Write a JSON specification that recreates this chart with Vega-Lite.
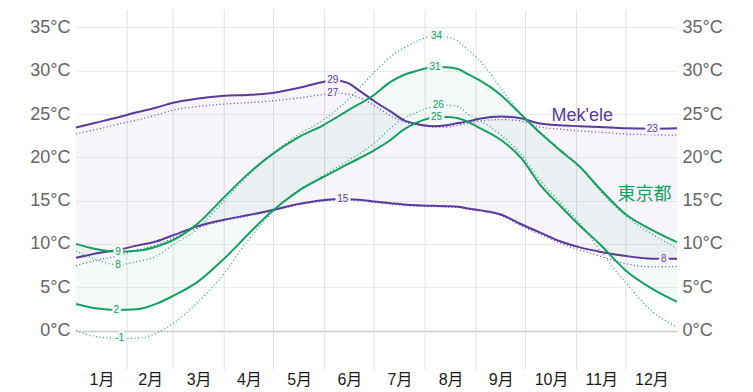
{
  "$schema": "https://vega.github.io/schema/vega-lite/v6.json",
  "width": 601,
  "height": 360,
  "autosize": {"type": "none"},
  "padding": {"left": 76, "top": 10, "right": 76, "bottom": 22},
  "background": "white",
  "config": {"view": {"stroke": null}, "font": "Liberation Sans"},
  "datasets": {
    "months": [{"d": 31}, {"d": 59}, {"d": 90}, {"d": 120}, {"d": 151}, {"d": 181}, {"d": 212}, {"d": 243}, {"d": 273}, {"d": 304}, {"d": 334}],
    "clim": [
      {"c": "Mek'ele", "d": 0, "hi": 23.45, "lo": 8.4, "hid": 22.7, "lod": 7.5},
      {"c": "Mek'ele", "d": 12, "hi": 24.0, "lo": 8.9, "hid": 23.2, "lod": 8.1},
      {"c": "Mek'ele", "d": 25, "hi": 24.6, "lo": 9.3, "hid": 23.8, "lod": 8.6},
      {"c": "Mek'ele", "d": 37, "hi": 25.2, "lo": 9.8, "hid": 24.3, "lod": 9.3},
      {"c": "Mek'ele", "d": 49, "hi": 25.75, "lo": 10.3, "hid": 24.9, "lod": 9.9},
      {"c": "Mek'ele", "d": 59, "hi": 26.3, "lo": 11.0, "hid": 25.45, "lod": 10.7},
      {"c": "Mek'ele", "d": 73, "hi": 26.75, "lo": 12.0, "hid": 25.85, "lod": 11.8},
      {"c": "Mek'ele", "d": 90, "hi": 27.1, "lo": 12.8, "hid": 26.15, "lod": 12.7},
      {"c": "Mek'ele", "d": 104, "hi": 27.2, "lo": 13.3, "hid": 26.3, "lod": 13.2},
      {"c": "Mek'ele", "d": 118, "hi": 27.4, "lo": 13.85, "hid": 26.5, "lod": 13.75},
      {"c": "Mek'ele", "d": 135, "hi": 28.0, "lo": 14.6, "hid": 26.85, "lod": 14.5},
      {"c": "Mek'ele", "d": 150, "hi": 28.7, "lo": 15.05, "hid": 27.25, "lod": 14.95},
      {"c": "Mek'ele", "d": 157, "hi": 28.9, "lo": 15.15, "hid": 27.4, "lod": 15.05},
      {"c": "Mek'ele", "d": 165, "hi": 28.6, "lo": 15.15, "hid": 27.3, "lod": 15.05},
      {"c": "Mek'ele", "d": 172, "hi": 27.7, "lo": 15.1, "hid": 26.9, "lod": 15.0},
      {"c": "Mek'ele", "d": 181, "hi": 26.5, "lo": 14.9, "hid": 26.0, "lod": 14.8},
      {"c": "Mek'ele", "d": 191, "hi": 25.3, "lo": 14.7, "hid": 24.8, "lod": 14.6},
      {"c": "Mek'ele", "d": 199, "hi": 24.3, "lo": 14.55, "hid": 24.1, "lod": 14.45},
      {"c": "Mek'ele", "d": 207, "hi": 23.85, "lo": 14.45, "hid": 23.75, "lod": 14.35},
      {"c": "Mek'ele", "d": 217, "hi": 23.6, "lo": 14.4, "hid": 23.5, "lod": 14.3},
      {"c": "Mek'ele", "d": 225, "hi": 23.7, "lo": 14.35, "hid": 23.5, "lod": 14.25},
      {"c": "Mek'ele", "d": 232, "hi": 23.95, "lo": 14.3, "hid": 23.7, "lod": 14.2},
      {"c": "Mek'ele", "d": 238, "hi": 24.15, "lo": 14.1, "hid": 23.9, "lod": 14.0},
      {"c": "Mek'ele", "d": 245, "hi": 24.45, "lo": 13.9, "hid": 24.2, "lod": 13.8},
      {"c": "Mek'ele", "d": 258, "hi": 24.7, "lo": 13.4, "hid": 24.35, "lod": 13.3},
      {"c": "Mek'ele", "d": 270, "hi": 24.5, "lo": 12.3, "hid": 24.2, "lod": 12.1},
      {"c": "Mek'ele", "d": 282, "hi": 23.9, "lo": 11.3, "hid": 23.5, "lod": 11.1},
      {"c": "Mek'ele", "d": 294, "hi": 23.7, "lo": 10.3, "hid": 23.25, "lod": 10.1},
      {"c": "Mek'ele", "d": 306, "hi": 23.6, "lo": 9.6, "hid": 23.05, "lod": 9.3},
      {"c": "Mek'ele", "d": 318, "hi": 23.5, "lo": 9.1, "hid": 22.9, "lod": 8.6},
      {"c": "Mek'ele", "d": 334, "hi": 23.35, "lo": 8.6, "hid": 22.7, "lod": 7.7},
      {"c": "Mek'ele", "d": 350, "hi": 23.3, "lo": 8.3, "hid": 22.6, "lod": 7.35},
      {"c": "Mek'ele", "d": 365, "hi": 23.35, "lo": 8.3, "hid": 22.55, "lod": 7.4},
      {"c": "東京都", "d": 0, "hi": 10.0, "lo": 3.06, "hid": 9.2, "lod": 0.0},
      {"c": "東京都", "d": 12, "hi": 9.4, "lo": 2.56, "hid": 8.2, "lod": -0.7},
      {"c": "東京都", "d": 25, "hi": 9.1, "lo": 2.37, "hid": 7.6, "lod": -0.9},
      {"c": "東京都", "d": 37, "hi": 9.2, "lo": 2.45, "hid": 7.95, "lod": -0.9},
      {"c": "東京都", "d": 49, "hi": 9.7, "lo": 3.1, "hid": 8.6, "lod": -0.3},
      {"c": "東京都", "d": 59, "hi": 10.45, "lo": 4.0, "hid": 9.9, "lod": 0.8},
      {"c": "東京都", "d": 73, "hi": 12.2, "lo": 5.5, "hid": 11.6, "lod": 3.1},
      {"c": "東京都", "d": 90, "hi": 15.4, "lo": 8.3, "hid": 15.0, "lod": 6.6},
      {"c": "東京都", "d": 104, "hi": 18.0, "lo": 11.0, "hid": 17.8, "lod": 10.3},
      {"c": "東京都", "d": 118, "hi": 20.2, "lo": 13.6, "hid": 20.2, "lod": 13.4},
      {"c": "東京都", "d": 135, "hi": 22.3, "lo": 16.1, "hid": 22.6, "lod": 16.2},
      {"c": "東京都", "d": 150, "hi": 23.7, "lo": 17.7, "hid": 24.3, "lod": 17.9},
      {"c": "東京都", "d": 165, "hi": 25.4, "lo": 19.2, "hid": 26.6, "lod": 19.6},
      {"c": "東京都", "d": 181, "hi": 27.2, "lo": 20.8, "hid": 29.8, "lod": 21.6},
      {"c": "東京都", "d": 191, "hi": 28.7, "lo": 22.0, "hid": 31.6, "lod": 23.35},
      {"c": "東京都", "d": 199, "hi": 29.5, "lo": 23.2, "hid": 32.6, "lod": 24.5},
      {"c": "東京都", "d": 207, "hi": 30.0, "lo": 24.0, "hid": 33.4, "lod": 25.2},
      {"c": "東京都", "d": 217, "hi": 30.4, "lo": 24.6, "hid": 34.0, "lod": 25.85},
      {"c": "東京都", "d": 225, "hi": 30.4, "lo": 24.65, "hid": 33.9, "lod": 26.0},
      {"c": "東京都", "d": 232, "hi": 30.2, "lo": 24.5, "hid": 33.4, "lod": 25.85},
      {"c": "東京都", "d": 238, "hi": 29.6, "lo": 24.1, "hid": 32.4, "lod": 25.0},
      {"c": "東京都", "d": 245, "hi": 28.9, "lo": 23.4, "hid": 31.2, "lod": 24.3},
      {"c": "東京都", "d": 258, "hi": 27.2, "lo": 22.0, "hid": 28.0, "lod": 22.6},
      {"c": "東京都", "d": 270, "hi": 25.0, "lo": 20.0, "hid": 25.0, "lod": 20.4},
      {"c": "東京都", "d": 282, "hi": 22.8, "lo": 16.8, "hid": 22.9, "lod": 17.3},
      {"c": "東京都", "d": 294, "hi": 20.8, "lo": 14.4, "hid": 20.9, "lod": 14.8},
      {"c": "東京都", "d": 306, "hi": 18.9, "lo": 12.1, "hid": 18.9, "lod": 12.4},
      {"c": "東京都", "d": 318, "hi": 16.4, "lo": 10.0, "hid": 16.2, "lod": 9.3},
      {"c": "東京都", "d": 334, "hi": 13.4, "lo": 6.9, "hid": 13.2, "lod": 5.5},
      {"c": "東京都", "d": 350, "hi": 11.6, "lo": 4.8, "hid": 11.1, "lod": 2.2},
      {"c": "東京都", "d": 365, "hi": 10.2, "lo": 3.3, "hid": 9.5, "lod": 0.4}
    ],
    "labels": [
      {"c": "Mek'ele", "d": 156, "t": 28.9, "v": "29"},
      {"c": "Mek'ele", "d": 156, "t": 27.4, "v": "27"},
      {"c": "Mek'ele", "d": 162, "t": 15.15, "v": "15"},
      {"c": "Mek'ele", "d": 350, "t": 23.3, "v": "23"},
      {"c": "Mek'ele", "d": 357, "t": 8.3, "v": "8"},
      {"c": "東京都", "d": 25.5, "t": 9.1, "v": "9"},
      {"c": "東京都", "d": 25.5, "t": 7.6, "v": "8"},
      {"c": "東京都", "d": 24.5, "t": 2.37, "v": "2"},
      {"c": "東京都", "d": 26.5, "t": -0.9, "v": "-1"},
      {"c": "東京都", "d": 218, "t": 30.4, "v": "31"},
      {"c": "東京都", "d": 219, "t": 34.0, "v": "34"},
      {"c": "東京都", "d": 219, "t": 24.6, "v": "25"},
      {"c": "東京都", "d": 220, "t": 26.0, "v": "26"}
    ],
    "names": [
      {"c": "Mek'ele", "d": 307.5, "t": 24.8},
      {"c": "東京都", "d": 345.3, "t": 15.7}
    ]
  },
  "encoding": {
    "x": {
      "field": "d", "type": "quantitative",
      "scale": {"domain": [0, 365], "nice": false, "zero": false},
      "axis": {
        "orient": "bottom",
        "values": [15.5, 45, 74.5, 105, 135.5, 166, 196.5, 227.5, 258, 288.5, 319, 349.5],
        "labelExpr": "(floor(datum.value/30.5)+1) + '月'",
        "grid": false, "ticks": false, "domain": false, "title": null,
        "labelFontSize": 16, "labelColor": "#1a1a1a", "labelPadding": 1,
        "labelFont": "Liberation Sans, Noto Sans CJK JP"
      }
    }
  },
  "layer": [
    {
      "data": {"name": "months"},
      "mark": {"type": "rule", "color": "#e0e0e0", "strokeWidth": 1}
    },
    {
      "data": {"name": "clim"},
      "mark": {"type": "area", "interpolate": "monotone", "fillOpacity": 0.05},
      "encoding": {
        "y": {
          "field": "lo", "type": "quantitative",
          "scale": {"domain": [-4.56, 37.01], "nice": false, "zero": false},
          "axis": {
            "orient": "left", "values": [0, 5, 10, 15, 20, 25, 30, 35],
            "labelExpr": "datum.value + '°C'",
            "grid": true,
            "gridColor": {"condition": {"test": "datum.value === 0", "value": "#cccccc"}, "value": "#ececec"},
            "gridWidth": {"condition": {"test": "datum.value === 0", "value": 1.5}, "value": 1},
            "ticks": false, "domain": false, "title": null,
            "labelFontSize": 18, "labelColor": "#666666", "labelPadding": 6,
            "labelFont": "Liberation Sans"
          }
        },
        "y2": {"field": "hi"},
        "color": {"field": "c", "type": "nominal", "scale": {"domain": ["Mek'ele", "東京都"], "range": ["#5a3a9c", "#13a061"]}, "legend": null}
      }
    },
    {
      "data": {"name": "clim"},
      "transform": [{"fold": ["hid", "lod"], "as": ["s", "t"]}],
      "mark": {"type": "line", "interpolate": "monotone", "strokeWidth": 1.3, "strokeDash": [1, 2.5], "opacity": 0.9},
      "encoding": {
        "y": {
          "field": "t", "type": "quantitative",
          "scale": {"domain": [-4.56, 37.01], "nice": false, "zero": false},
          "axis": {
            "orient": "right", "values": [0, 5, 10, 15, 20, 25, 30, 35],
            "labelExpr": "datum.value + '°C'",
            "grid": false, "ticks": false, "domain": false, "title": null,
            "labelFontSize": 18, "labelColor": "#666666", "labelPadding": 5,
            "labelFont": "Liberation Sans"
          }
        },
        "detail": {"field": "s"},
        "color": {"field": "c", "type": "nominal", "scale": {"domain": ["Mek'ele", "東京都"], "range": ["#5a3a9c", "#13a061"]}, "legend": null}
      }
    },
    {
      "data": {"name": "clim"},
      "transform": [{"fold": ["hi", "lo"], "as": ["s", "t"]}],
      "mark": {"type": "line", "interpolate": "monotone", "strokeWidth": 2},
      "encoding": {
        "y": {"field": "t", "type": "quantitative", "scale": {"domain": [-4.56, 37.01], "nice": false, "zero": false}, "axis": null},
        "detail": {"field": "s"},
        "color": {"field": "c", "type": "nominal", "scale": {"domain": ["Mek'ele", "東京都"], "range": ["#5a3a9c", "#13a061"]}, "legend": null}
      }
    },
    {
      "data": {"name": "labels"},
      "mark": {"type": "text", "fontSize": 10, "baseline": "middle", "align": "center", "strokeWidth": 5, "font": "Liberation Sans"},
      "encoding": {
        "y": {"field": "t", "type": "quantitative", "scale": {"domain": [-4.56, 37.01], "nice": false, "zero": false}, "axis": null},
        "text": {"field": "v"},
        "fill": {"field": "c", "type": "nominal", "scale": {"domain": ["Mek'ele", "東京都"], "range": ["#f7f5fb", "#f2f8f5"]}, "legend": null},
        "stroke": {"field": "c", "type": "nominal", "scale": {"domain": ["Mek'ele", "東京都"], "range": ["#f7f5fb", "#f2f8f5"]}, "legend": null}
      }
    },
    {
      "data": {"name": "labels"},
      "mark": {"type": "text", "fontSize": 10, "baseline": "middle", "align": "center", "font": "Liberation Sans"},
      "encoding": {
        "y": {"field": "t", "type": "quantitative", "scale": {"domain": [-4.56, 37.01], "nice": false, "zero": false}, "axis": null},
        "text": {"field": "v"},
        "color": {"field": "c", "type": "nominal", "scale": {"domain": ["Mek'ele", "東京都"], "range": ["#5a3a9c", "#13a061"]}, "legend": null}
      }
    },
    {
      "data": {"name": "names"},
      "mark": {"type": "text", "fontSize": 18, "baseline": "middle", "align": "center", "font": "Liberation Sans, Noto Sans CJK JP"},
      "encoding": {
        "y": {"field": "t", "type": "quantitative", "scale": {"domain": [-4.56, 37.01], "nice": false, "zero": false}, "axis": null},
        "text": {"field": "c"},
        "color": {"field": "c", "type": "nominal", "scale": {"domain": ["Mek'ele", "東京都"], "range": ["#5a3a9c", "#13a061"]}, "legend": null}
      }
    }
  ],
  "resolve": {"axis": {"y": "independent"}}
}
